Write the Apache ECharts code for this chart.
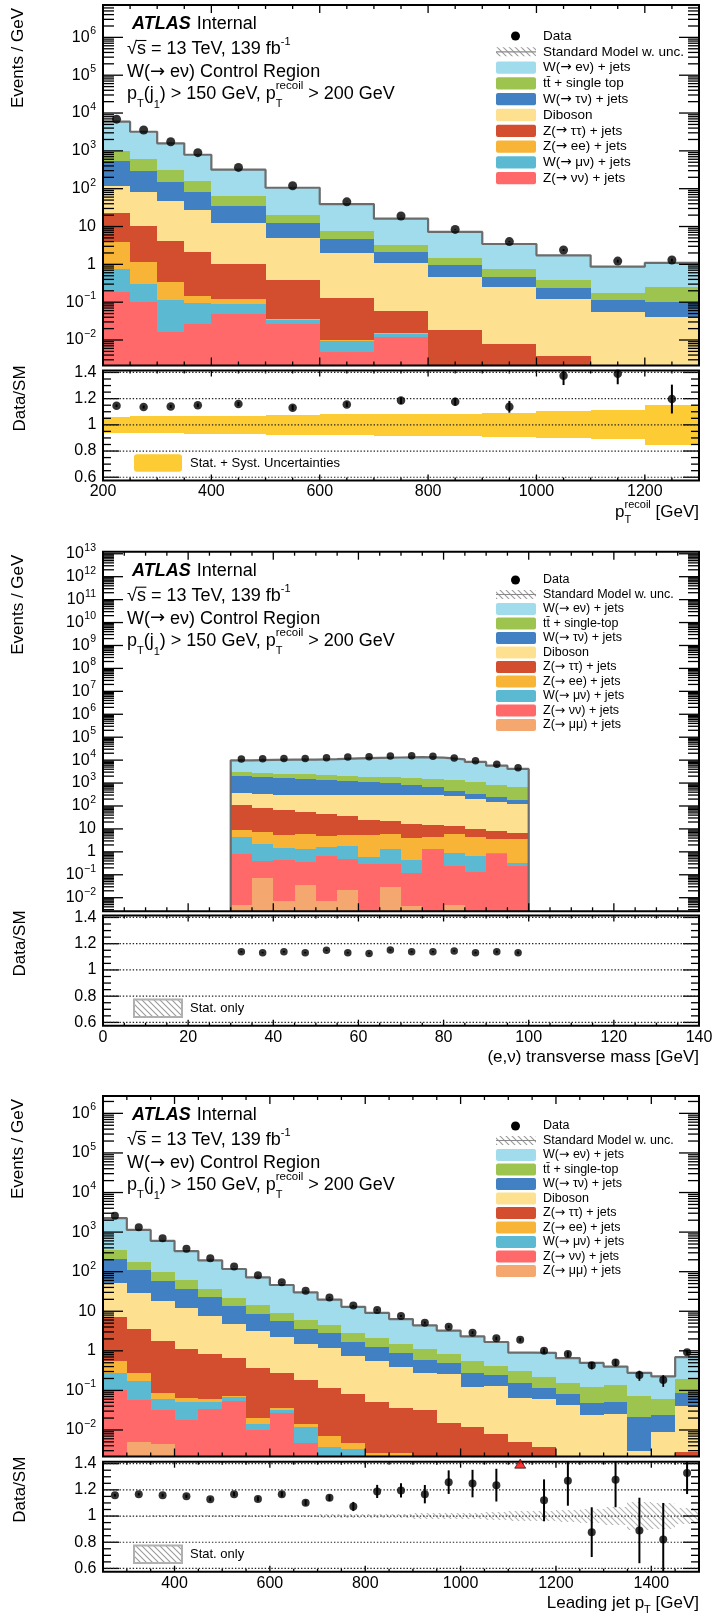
<!DOCTYPE html>
<html>
<head>
<meta charset="utf-8">
<title>W(→eν) Control Region</title>
<script src="https://cdn.jsdelivr.net/npm/echarts@6.0.0/dist/echarts.min.js"></script>
<style>
html,body{margin:0;padding:0;background:#ffffff;}
#chart{width:714px;height:1615px;}
</style>
</head>
<body>
<div id="chart"></div>
<script>
// ===================== DATA =====================
// ---- Panel 1: pT recoil ----
const recoilEdges = [200,250,300,350,400,500,600,700,800,900,1000,1100,1200,1300];
const recoilXLabels = [200,400,600,800,1000,1200];
const recoilData    = [6900,3550,1740,895,366,120,45,19,8.4,4.0,2.4,1.22,1.3];
const recoilDataErr = [12,8,6,3,1.4,0.8,0.5,0.3,0.2,0.14,0.15,0.11,0.11];
const recoilWev = [4910,2604,1270,630,254,86,31.7,12.9,5.76,2.70,1.345,0.692,0.854];
const recoilTt  = [450,302,157,80,29.2,7.4,2.93,1.04,0.50,0.28,0.145,0.064,0.143];
const recoilWtv = [420,214,106,52.6,22.2,7.7,2.72,1.1,0.49,0.224,0.12,0.058,0.062];
const recoilDib = [97.7,69.7,42.9,25.3,11.6,4.5,1.82,1.0,0.432,0.238,0.116,0.055,0.040];
const recoilZtt = [18.3,9.13,3.77,1.93,0.90,0.348,0.116,0.043,0.018,0.0078,0.0038,0.001,0.001];
const recoilZee = [3.26,0.87,0.22,0.049,0.031,0.003,0.0004,0.001,0,0,0,0,0];
const recoilWmv = [0.55,0.197,0.097,0.071,0.039,0.008,0.0047,0.0017,0,0,0,0,0];
const recoilZvv = [0.19,0.103,0.0166,0.0264,0.050,0.026,0.0049,0.0123,0,0,0,0,0];
const recoilRatio    = [1.146,1.136,1.141,1.149,1.159,1.131,1.156,1.185,1.177,1.138,1.374,1.39,1.197];
const recoilRatioErr = [0.01,0.012,0.012,0.014,0.015,0.02,0.02,0.025,0.03,0.045,0.07,0.08,0.11];
const recoilBand     = [0.062,0.064,0.066,0.07,0.07,0.077,0.08,0.082,0.086,0.093,0.104,0.11,0.154];

// ---- Panel 2: (e,nu) transverse mass ----
const mtEdges = [30,35,40,45,50,55,60,65,70,75,80,85,90,95,100];
const mtXLabels = [0,20,40,60,80,100,120,140];
const mtData    = [11140,11500,11900,11900,12700,13600,14100,15000,15500,14600,12300,9440,6530,4680];
const mtDataErr = [105,107,109,109,113,117,119,122,124,121,111,97,81,68];
const mtWev = [6640,7320,7880,8110,8860,9970,10610,11240,11950,11270,9390,7270,4880,3480];
const mtTt  = [1050,950,870,850,780,780,800,810,840,900,900,750,613,468];
const mtWtv = [1735,1570,1390,1240,1090,950,800,660,510,360,180,112,82,61];
const mtDib = [245,241.5,243.5,257.3,267,273.5,285.6,288.6,293.7,275.2,256.7,198,146.9,114.6];
const mtZtt = [101,70.9,61.1,46.7,37.95,30.9,19.0,15.6,12.4,10.4,7.13,5.63,4.36,2.9];
const mtZee = [4.63,5.38,3.88,4.69,3.43,3.73,4.79,4.48,3.43,3.09,5.25,3.59,2.82,3.16];
const mtWmv = [3.44,1.79,1.08,0.91,0.94,1.38,0.32,1.04,0.32,0.01,0.67,0.545,0.144,0.088];
const mtZvv = [0.825,0.326,0.429,0.335,0.673,0.4485,0.294,0.255,0.11,1.32,0.243,0.135,0.776,0.248];
const mtZmm = [0.0048,0.074,0.0071,0.035,0.0074,0.0215,0,0.029,0.0045,0,0.0048,0,0,0];
const mtRatio    = [1.139,1.132,1.139,1.132,1.150,1.132,1.126,1.152,1.139,1.139,1.145,1.132,1.139,1.132];
const mtRatioErr = [0.006,0.006,0.006,0.006,0.006,0.006,0.006,0.006,0.006,0.006,0.006,0.007,0.008,0.009];
const mtStat     = [0.003,0.003,0.003,0.003,0.003,0.003,0.003,0.003,0.003,0.003,0.003,0.003,0.004,0.004];

// ---- Panel 3: leading jet pT ----
const jetEdges = [250,300,350,400,450,500,550,600,650,700,750,800,850,900,950,1000,1050,1100,1150,1200,1250,1300,1350,1400,1450,1500];
const jetXLabels = [400,600,800,1000,1200,1400];
const jetData    = [2600,1320,695,380,217,136,81,53.7,33.1,22.4,13.9,10.8,7.6,5.15,4.08,2.88,2.07,1.91,1.0,0.83,0.43,0.51,0.245,0.183,0.92];
const jetDataErr = [7,5,3.7,2.8,2.1,1.6,1.3,1.0,0.8,0.67,0.53,0.46,0.39,0.32,0.29,0.24,0.2,0.19,0.14,0.13,0.09,0.1,0.07,0.06,0.13];
const jetWev = [1905,955,503,270.7,156.5,95,57.4,37.1,24.0,15.2,10.18,7.02,4.88,3.29,2.39,1.757,1.256,0.59,0.668,0.497,0.371,0.263,0.206,0.164,0.503];
const jetTt  = [143,68,40.7,24.8,14.1,8.4,5.7,3.3,2.4,1.73,1.06,0.82,0.605,0.532,0.36,0.278,0.169,0.156,0.105,0.077,0.077,0.085,0.050,0.037,0.106];
const jetWtv = [158.3,80.5,41.1,24.6,14.8,8.8,5.5,3.4,2.11,1.62,0.99,0.69,0.465,0.318,0.23,0.15,0.119,0.091,0.056,0.037,0.023,0.026,0.0188,0.0149,0.043];
const jetDib = [43.7,25.95,16.43,10.8,6.77,4.14,2.83,2.02,1.31,1.04,0.64,0.51,0.363,0.238,0.245,0.113,0.118,0.058,0.057,0.0425,0.0235,0.0255,0.0024,0.0086,0.038];
const jetZtt = [6.45,3.27,1.686,1.035,0.77,0.588,0.354,0.243,0.169,0.106,0.076,0.049,0.034,0.032,0.0153,0.0117,0.0079,0.005,0.0038,0.0005,0.0005,0.0005,0.0005,0.0005,0.0027];
const jetZee = [0.272,0.108,0.025,0.013,0.0085,0.003,0.0063,0.0046,0.0019,0.0032,0.0012,0.0026,0.0026,0,0,0,0,0,0,0,0,0,0,0,0];
const jetWmv = [0.178,0.115,0.027,0.0341,0.0187,0.014,0.0041,0.0057,0.0074,0.0038,0.0034,0,0,0,0,0,0,0,0,0,0,0,0,0,0];
const jetZvv = [0.102,0.0521,0.0276,0.0179,0.0333,0.055,0.01,0.0263,0.0046,0,0,0,0,0,0,0,0,0,0,0,0,0,0,0,0];
const jetZmm = [0,0.0049,0.0044,0,0,0,0,0,0,0,0,0,0,0,0,0,0,0,0,0,0,0,0,0,0];
const jetRatio    = [1.159,1.167,1.159,1.151,1.128,1.167,1.131,1.167,1.102,1.139,1.073,1.188,1.196,1.167,1.259,1.248,1.236,2.12,1.12,1.269,0.877,1.277,0.89,0.82,1.328];
const jetRatioErr = [0.01,0.01,0.012,0.013,0.014,0.016,0.018,0.02,0.022,0.024,0.035,0.05,0.055,0.07,0.09,0.105,0.125,0.3,0.16,0.19,0.19,0.21,0.25,0.28,0.16];
const jetStat     = [0.004,0.004,0.005,0.005,0.006,0.006,0.007,0.008,0.01,0.012,0.014,0.016,0.018,0.02,0.022,0.025,0.03,0.035,0.04,0.045,0.05,0.07,0.11,0.1,0.06];

// ---- legend texts ----
const legendLabels1 = ['Data','Standard Model w. unc.','W(→ eν) + jets','tt\u0304 + single top','W(→ τν) + jets','Diboson','Z(→ ττ) + jets','Z(→ ee) + jets','W(→ μν) + jets','Z(→ νν) + jets'];
const legendLabels2 = ['Data','Standard Model w. unc.','W(→ eν) + jets','tt\u0304 + single-top','W(→ τν) + jets','Diboson','Z(→ ττ) + jets','Z(→ ee) + jets','W(→ μν) + jets','Z(→ νν) + jets','Z(→ μμ) + jets'];
const legendKeys1 = ['data','sm','Wev','tt','Wtv','Dib','Ztt','Zee','Wmv','Zvv'];
const legendKeys2 = ['data','sm','Wev','tt','Wtv','Dib','Ztt','Zee','Wmv','Zvv','Zmm'];

// ===================== STYLE / LAYOUT =====================
const FONT = "'Liberation Sans', Arial, Helvetica, sans-serif";
const ARROW_FONT = "'DejaVu Sans', sans-serif";
const COLORS = {Wev:'#a0dcec', tt:'#9dc44f', Wtv:'#4280c4', Dib:'#fde190', Ztt:'#d34d2f', Zee:'#f8b436', Wmv:'#5bbad2', Zvv:'#ff6969', Zmm:'#f4a76f'};
const BAND_COLOR = '#fdcb33';
const LEFT = 103, WIDTH = 596;
const R_MIN = 0.575, R_MAX = 1.415;

const mctx = document.createElement('canvas').getContext('2d');
function tw(t, s, w, i, f) { mctx.font = (i || 'normal') + ' ' + (w || 'normal') + ' ' + s + 'px ' + (f || FONT); return mctx.measureText(t).width; }
function makeHatch(color, size, lw) {
  const c = document.createElement('canvas'); c.width = size; c.height = size;
  const g = c.getContext('2d'); g.strokeStyle = color; g.lineWidth = lw;
  g.beginPath();
  g.moveTo(-1, -1); g.lineTo(size + 1, size + 1);
  g.moveTo(size - 2, -2); g.lineTo(size + 2, 2);
  g.moveTo(-2, size - 2); g.lineTo(2, size + 2);
  g.stroke();
  return c;
}
const HATCH = makeHatch('#b4b4b4', 6, 1.1);
const HATCH_LEG = makeHatch('#9a9a9a', 6, 1.1);

function txt(x, y, text, size, o) {
  o = o || {};
  const a = o.a || 'left', v = o.v || 'middle';
  return {type:'text', x:x, y:y, rotation:o.r || 0, silent:true, z:100,
    style:{text:text, fontSize:size, fontFamily:o.f || FONT, fontWeight:o.w || 'normal', fontStyle:o.i || 'normal', fill:o.c || '#000',
      align:a, verticalAlign:v, textAlign:a, textVerticalAlign:v}};
}
function run(x, y, parts, anchor) {
  const advs = parts.map(p => (p.adv !== undefined) ? p.adv : tw(p.t, p.s, p.w, p.i, p.f));
  let cx = x;
  if (anchor === 'right') cx = x - advs.reduce((a, b) => a + b, 0);
  return parts.map((p, k) => { const el = txt(cx, y + (p.dy || 0), p.t, p.s, {w:p.w, i:p.i, f:p.f}); cx += advs[k]; return el; });
}
// split a label so that the arrow uses a font with a full-size arrow glyph
function arrowParts(text, s) {
  const out = [];
  text.split('→').forEach((piece, k) => {
    if (k > 0) out.push({t:'→', s:s, f:ARROW_FONT});
    if (piece) out.push({t:piece, s:s});
  });
  return out;
}
function isMult(v, m) { return Math.abs(v / m - Math.round(v / m)) < 1e-6; }

const PANELS = [
  {edges:recoilEdges, data:recoilData, dataErr:recoilDataErr,
   stack:[['Zvv',recoilZvv],['Wmv',recoilWmv],['Zee',recoilZee],['Ztt',recoilZtt],['Dib',recoilDib],['Wtv',recoilWtv],['tt',recoilTt],['Wev',recoilWev]],
   ratio:recoilRatio, ratioErr:recoilRatioErr, band:recoilBand, bandKind:'syst',
   xMin:200, xMax:1300, xMajor:200, xMinor:50, xLabels:recoilXLabels,
   mainTop:5, mainH:360.5, logMin:-2.674, logMax:6.856, ratioTop:370.5, ratioH:110,
   closeSides:false, ms:9, rms:8.5,
   legendKeys:legendKeys1, legendLabels:legendLabels1, legTop:36, legStep:15.8, legFont:13.5, swH:12.3,
   xTitle:[{t:'p',s:17},{t:'T',s:11,dy:7,adv:0},{t:'recoil',s:11,dy:-8},{t:' [GeV]',s:17}]},
  {edges:mtEdges, data:mtData, dataErr:mtDataErr,
   stack:[['Zmm',mtZmm],['Zvv',mtZvv],['Wmv',mtWmv],['Zee',mtZee],['Ztt',mtZtt],['Dib',mtDib],['Wtv',mtWtv],['tt',mtTt],['Wev',mtWev]],
   ratio:mtRatio, ratioErr:mtRatioErr, band:mtStat, bandKind:'stat',
   xMin:0, xMax:140, xMajor:20, xMinor:5, xLabels:mtXLabels,
   mainTop:551.7, mainH:359.6, logMin:-2.593, logMax:13.09, ratioTop:915.5, ratioH:110.2,
   closeSides:true, ms:7.5, rms:7.5,
   legendKeys:legendKeys2, legendLabels:legendLabels2, legTop:580, legStep:14.5, legFont:12.5, swH:12,
   xTitle:[{t:'(e,ν) transverse mass [GeV]',s:17}]},
  {edges:jetEdges, data:jetData, dataErr:jetDataErr,
   stack:[['Zmm',jetZmm],['Zvv',jetZvv],['Wmv',jetWmv],['Zee',jetZee],['Ztt',jetZtt],['Dib',jetDib],['Wtv',jetWtv],['tt',jetTt],['Wev',jetWev]],
   ratio:jetRatio, ratioErr:jetRatioErr, band:jetStat, bandKind:'stat',
   xMin:250, xMax:1500, xMajor:200, xMinor:50, xLabels:jetXLabels,
   mainTop:1096, mainH:360.5, logMin:-2.670, logMax:6.439, ratioTop:1461.7, ratioH:110,
   closeSides:false, ms:8, rms:8,
   legendKeys:legendKeys2, legendLabels:legendLabels2, legTop:1126, legStep:14.5, legFont:12.5, swH:12,
   xTitle:[{t:'Leading jet p',s:17},{t:'T',s:11,dy:6},{t:' [GeV]',s:17}]}
];

// ===================== RENDER HELPERS =====================
function rectRender(fill) {
  return function (params, api) {
    const cs = params.coordSys;
    const lo = api.value(2), hi = api.value(3);
    if (!(hi > lo)) return null;
    const a = api.coord([api.value(0), lo]), b = api.coord([api.value(1), hi]);
    const top = Math.round(Math.max(b[1], cs.y));
    const bot = Math.round(Math.min(a[1], cs.y + cs.height));
    if (!(bot > top)) return null;
    const x0 = Math.round(a[0]), x1 = Math.round(b[0]);
    return {type:'rect', shape:{x:x0, y:top, width:x1 - x0, height:bot - top}, style:{fill:fill}};
  };
}
function errRender(lw) {
  return function (params, api) {
    const cs = params.coordSys;
    const a = api.coord([api.value(0), api.value(1)]), b = api.coord([api.value(0), api.value(2)]);
    const y1 = Math.max(Math.min(a[1], b[1]), cs.y), y2 = Math.min(Math.max(a[1], b[1]), cs.y + cs.height);
    if (!(y2 > y1)) return null;
    return {type:'line', shape:{x1:a[0], y1:y1, x2:a[0], y2:y2}, style:{stroke:'#000', lineWidth:lw}};
  };
}
function logLabel(ch, xr, py, k) {
  if (k === 0) { ch.push(txt(xr, py, '1', 16, {a:'right'})); return; }
  if (k === 1) { ch.push(txt(xr, py, '10', 16, {a:'right'})); return; }
  const e = (k < 0 ? '\u2212' : '') + Math.abs(k);
  const we = tw(e, 10.5);
  ch.push(txt(xr, py - 6, e, 10.5, {a:'right'}));
  ch.push(txt(xr - we - 0.5, py, '10', 16, {a:'right'}));
}
function decoRender(P, isRatio) {
  return function (params, api) {
    const cs = params.coordSys;
    const L = cs.x, R = cs.x + cs.width, Tp = cs.y, B = cs.y + cs.height;
    const ch = [];
    const tick = {stroke:'#000', lineWidth:1.3};
    const ln = (x1, y1, x2, y2, st) => ch.push({type:'line', shape:{x1:x1, y1:y1, x2:x2, y2:y2}, style:st || tick});
    const xMaj = isRatio ? 6 : 8, xMin = isRatio ? 3 : 4;
    const n0 = Math.ceil(P.xMin / P.xMinor), n1 = Math.floor(P.xMax / P.xMinor);
    for (let n = n0; n <= n1; n++) {
      const v = n * P.xMinor;
      if (v <= P.xMin || v >= P.xMax) continue;
      const px = api.coord([v, 1])[0];
      const len = isMult(v, P.xMajor) ? xMaj : xMin;
      ln(px, B, px, B - len); ln(px, Tp, px, Tp + len);
    }
    if (!isRatio) {
      for (let k = Math.floor(P.logMin); k <= Math.ceil(P.logMax); k++) {
        for (let m = 1; m <= 9; m++) {
          const lv = k + Math.log10(m);
          if (lv <= P.logMin || lv >= P.logMax) continue;
          const py = api.coord([P.xMin, Math.pow(10, lv)])[1];
          const len = m === 1 ? 20 : 11;
          ln(L, py, L + len, py); ln(R, py, R - len, py);
          if (m === 1) logLabel(ch, L - 7, py, k);
        }
      }
    } else {
      for (let j = Math.ceil(R_MIN / 0.05 - 1e-6); j * 0.05 <= R_MAX + 1e-9; j++) {
        const v = j * 0.05;
        const py = api.coord([P.xMin, v])[1];
        const maj = j % 4 === 0;
        ln(L, py, L + (maj ? 16 : 8), py); ln(R, py, R - (maj ? 16 : 8), py);
        if (maj) {
          ln(L, py, R, py, {stroke:'#222', lineWidth:1.2, lineDash:[1.4, 1.9]});
          ch.push(txt(L - 6.5, py, j === 20 ? '1' : v.toFixed(1), 16, {a:'right'}));
        }
      }
      P.xLabels.forEach(v => { const px = api.coord([v, 1])[0]; ch.push(txt(px, B + 11.5, String(v), 16, {a:'center'})); });
    }
    ch.push({type:'rect', shape:{x:L, y:Tp, width:R - L, height:B - Tp}, style:{fill:'none', stroke:'#000', lineWidth:2}});
    return {type:'group', children:ch};
  };
}

// ===================== BUILD OPTION =====================
const grids = [], xAxes = [], yAxes = [], series = [], graphics = [];
const hiddenAxis = {axisLabel:{show:false}, axisTick:{show:false}, axisLine:{show:false}, splitLine:{show:false}, minorTick:{show:false}};

PANELS.forEach((P) => {
  const nb = P.edges.length - 1;
  const centers = P.edges.slice(0, nb).map((e, i) => (e + P.edges[i + 1]) / 2);
  const yMinVal = Math.pow(10, P.logMin);

  const gM = grids.length;
  grids.push({left:LEFT, width:WIDTH, top:P.mainTop, height:P.mainH, containLabel:false, outerBoundsMode:'none'});
  xAxes.push(Object.assign({type:'value', gridIndex:gM, min:P.xMin, max:P.xMax}, hiddenAxis));
  yAxes.push(Object.assign({type:'log', logBase:10, gridIndex:gM, min:yMinVal, max:Math.pow(10, P.logMax)}, hiddenAxis));
  const gR = grids.length;
  grids.push({left:LEFT, width:WIDTH, top:P.ratioTop, height:P.ratioH, containLabel:false, outerBoundsMode:'none'});
  xAxes.push(Object.assign({type:'value', gridIndex:gR, min:P.xMin, max:P.xMax}, hiddenAxis));
  yAxes.push(Object.assign({type:'value', gridIndex:gR, min:R_MIN, max:R_MAX}, hiddenAxis));

  // stacked histogram
  const cum = new Array(nb).fill(0);
  P.stack.forEach(([key, vals]) => {
    const items = [];
    for (let i = 0; i < nb; i++) {
      const lo = cum[i], hi = cum[i] + vals[i];
      cum[i] = hi;
      items.push([P.edges[i], P.edges[i + 1], Math.max(lo, 1e-12), Math.max(hi, 1e-12)]);
    }
    series.push({type:'custom', name:key, xAxisIndex:gM, yAxisIndex:gM, data:items, encode:{x:[0, 1], y:[2, 3]},
      renderItem:rectRender(COLORS[key]), z:2, silent:true});
  });
  // SM total outline
  const pts = [];
  if (P.closeSides) pts.push([P.edges[0], yMinVal]);
  for (let i = 0; i < nb; i++) pts.push([P.edges[i], cum[i]]);
  pts.push([P.edges[nb], cum[nb - 1]]);
  if (P.closeSides) pts.push([P.edges[nb], yMinVal]);
  series.push({type:'line', xAxisIndex:gM, yAxisIndex:gM, data:pts, step:'end', symbol:'none', showSymbol:false,
    lineStyle:{color:'#6c6c6c', width:2.2}, clip:true, z:3, silent:true});
  // decorations (frame, ticks, labels)
  series.push({type:'custom', xAxisIndex:gM, yAxisIndex:gM, data:[[P.xMin, 1]], renderItem:decoRender(P, false), z:5, silent:true});
  // data
  series.push({type:'custom', xAxisIndex:gM, yAxisIndex:gM, z:6, silent:true, renderItem:errRender(1.8),
    data:P.data.map((v, i) => [centers[i], Math.max(v - P.dataErr[i], 1e-12), v + P.dataErr[i]])});
  series.push({type:'scatter', xAxisIndex:gM, yAxisIndex:gM, symbol:'circle', symbolSize:P.ms, itemStyle:{color:'#000'}, z:7, silent:true,
    data:P.data.map((v, i) => [centers[i], v])});

  // ratio band
  const bandFill = P.bandKind === 'syst' ? BAND_COLOR : {image:HATCH, repeat:'repeat'};
  series.push({type:'custom', xAxisIndex:gR, yAxisIndex:gR, z:2, silent:true, renderItem:rectRender(bandFill), encode:{x:[0, 1], y:[2, 3]},
    data:P.band.map((e, i) => [P.edges[i], P.edges[i + 1], 1 - e, 1 + e])});
  series.push({type:'custom', xAxisIndex:gR, yAxisIndex:gR, data:[[P.xMin, 1]], renderItem:decoRender(P, true), z:5, silent:true});
  const inRange = [], overflow = [], errs = [];
  P.ratio.forEach((r, i) => {
    if (r > R_MAX) overflow.push([centers[i], R_MAX - 0.015]);
    else { inRange.push([centers[i], r]); errs.push([centers[i], r - P.ratioErr[i], r + P.ratioErr[i]]); }
  });
  series.push({type:'custom', xAxisIndex:gR, yAxisIndex:gR, z:6, silent:true, renderItem:errRender(2), data:errs});
  series.push({type:'scatter', xAxisIndex:gR, yAxisIndex:gR, symbol:'circle', symbolSize:P.rms, itemStyle:{color:'#000'}, z:7, silent:true, data:inRange});
  if (overflow.length) series.push({type:'scatter', xAxisIndex:gR, yAxisIndex:gR, symbol:'triangle', symbolSize:[11, 9],
    itemStyle:{color:'#ff0000', borderColor:'#000', borderWidth:0.8}, z:8, silent:true, data:overflow});

  // ---------- text & legend (graphic) ----------
  const T0 = P.mainTop, RT = P.ratioTop, RB = P.ratioTop + P.ratioH;
  graphics.push(txt(18, T0 + 53, 'Events / GeV', 17, {a:'center', r:Math.PI / 2}));
  graphics.push(txt(20, RT + 28, 'Data/SM', 17, {a:'center', r:Math.PI / 2}));
  graphics.push(txt(132, T0 + 19, 'ATLAS', 18, {w:'bold', i:'italic'}));
  graphics.push(txt(132 + tw('ATLAS', 18, 'bold', 'italic') + 6, T0 + 19, 'Internal', 18));
  const x2 = 127, y2 = T0 + 44;
  const wr = tw('√', 18), ws = tw('s', 18);
  run(x2, y2, [{t:'√', s:18}, {t:'s', s:18}, {t:' = 13 TeV, 139 fb', s:18}, {t:'-1', s:11, dy:-7}]).forEach(e => graphics.push(e));
  graphics.push({type:'line', silent:true, shape:{x1:x2 + wr - 1, y1:y2 - 8.5, x2:x2 + wr + ws + 0.5, y2:y2 - 8.5}, style:{stroke:'#000', lineWidth:1.1}});
  run(127, T0 + 67, arrowParts('W(→ eν) Control Region', 18)).forEach(e => graphics.push(e));
  run(127, T0 + 89, [{t:'p', s:18}, {t:'T', s:11, dy:10}, {t:'(j', s:18}, {t:'1', s:11, dy:11}, {t:') > 150 GeV, p', s:18},
    {t:'T', s:11, dy:10, adv:0}, {t:'recoil', s:11.5, dy:-8}, {t:' > 200 GeV', s:18}]).forEach(e => graphics.push(e));

  P.legendKeys.forEach((k, j) => {
    const y = P.legTop + j * P.legStep;
    if (k === 'data') graphics.push({type:'circle', silent:true, shape:{cx:515.5, cy:y, r:4.5}, style:{fill:'#000'}});
    else if (k === 'sm') {
      graphics.push({type:'rect', silent:true, shape:{x:496, y:y - 4.5, width:40, height:9}, style:{fill:{image:HATCH_LEG, repeat:'repeat'}}});
      graphics.push({type:'line', silent:true, shape:{x1:496, y1:y, x2:536, y2:y}, style:{stroke:'#8a8a8a', lineWidth:1.2}});
    } else graphics.push({type:'rect', silent:true, shape:{x:496, y:y - P.swH / 2, width:40, height:P.swH, r:2}, style:{fill:COLORS[k]}});
    run(543, y, arrowParts(P.legendLabels[j], P.legFont)).forEach(e => graphics.push(e));
  });

  if (P.bandKind === 'syst') {
    graphics.push({type:'rect', silent:true, shape:{x:134, y:RB - 26.2, width:48, height:17.4, r:3}, style:{fill:BAND_COLOR}});
    graphics.push(txt(190, RB - 17.2, 'Stat. + Syst. Uncertainties', 13));
  } else {
    graphics.push({type:'rect', silent:true, shape:{x:134, y:RB - 26.2, width:48, height:17.4}, style:{fill:{image:HATCH_LEG, repeat:'repeat'}, stroke:'#b0b0b0', lineWidth:2}});
    graphics.push(txt(190, RB - 17.2, 'Stat. only', 13));
  }
  run(LEFT + WIDTH, RB + 32, P.xTitle, 'right').forEach(e => graphics.push(e));
});

const chart = echarts.init(document.getElementById('chart'), null, {renderer:'canvas', width:714, height:1615, devicePixelRatio:1});
chart.setOption({
  animation:false,
  backgroundColor:'#ffffff',
  textStyle:{fontFamily:FONT},
  grid:grids, xAxis:xAxes, yAxis:yAxes, series:series,
  graphic:{elements:graphics}
});
</script>
</body>
</html>
